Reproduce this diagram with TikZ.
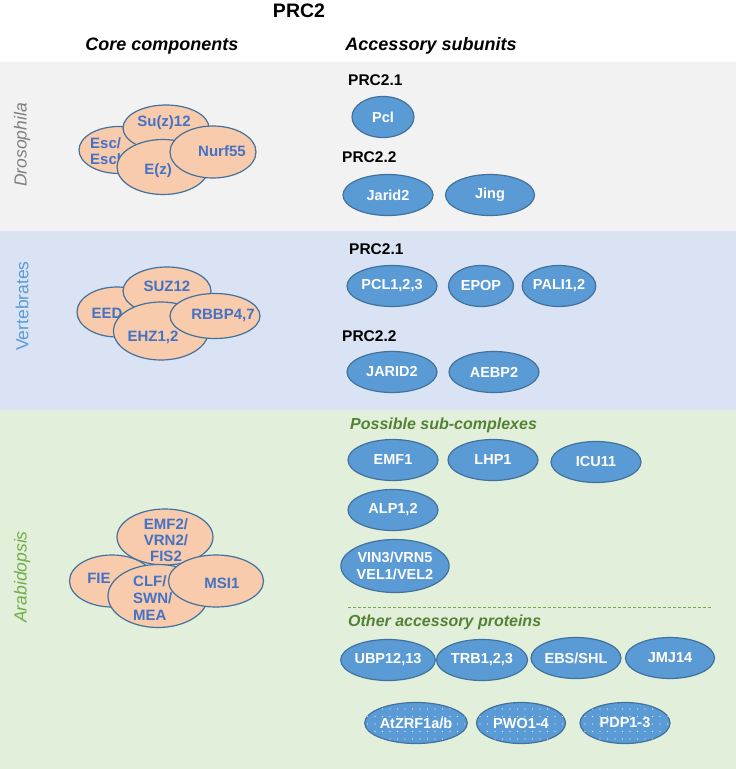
\documentclass[tikz,border=0pt]{standalone}
\usepackage{fontspec}
\setmainfont{Liberation Sans}
\usetikzlibrary{shapes.geometric,patterns.meta}
\definecolor{bandgray}{HTML}{F2F2F2}
\definecolor{bandblue}{HTML}{DAE3F3}
\definecolor{bandgreen}{HTML}{E2EFDA}
\definecolor{edgeblue}{HTML}{41719C}
\definecolor{salmon}{HTML}{F8CBAD}
\definecolor{accblue}{HTML}{5B9BD5}
\definecolor{coretext}{HTML}{4472C4}
\definecolor{drosgray}{HTML}{7F7F7F}
\definecolor{vertblue}{HTML}{5B9BD5}
\definecolor{arabgreen}{HTML}{70AD47}
\definecolor{darkgreen}{HTML}{548235}
\tikzset{
  coreell/.style={ellipse, draw=edgeblue, fill=salmon, line width=1.2pt, inner sep=0pt},
  coretxt/.style={text=coretext, font=\fontsize{15}{16}\selectfont\bfseries, inner sep=0pt},
  accell/.style={ellipse, draw=edgeblue, fill=accblue, line width=1.2pt, inner sep=0pt,
    minimum width=90pt, minimum height=41pt, text=white, font=\fontsize{14.5}{16}\selectfont\bfseries, align=center},
  accdot/.style={accell, postaction={pattern={Dots[distance=7.5pt,radius=0.55pt]}, pattern color=white!85!accblue}},
  grouplbl/.style={anchor=west, inner sep=0pt, font=\fontsize{15.5}{17}\selectfont\bfseries},
  sublbl/.style={anchor=west, inner sep=0pt, text=darkgreen, font=\fontsize{16}{18}\selectfont\bfseries\itshape},
  header/.style={inner sep=0pt, font=\fontsize{18}{20}\selectfont\bfseries\itshape},
  sidelbl/.style={inner sep=0pt, rotate=90, font=\fontsize{17.5}{19}\selectfont}
}
\begin{document}
\begin{tikzpicture}[x=1pt,y=-1pt]
\useasboundingbox (0,0) rectangle (736,769);
% bands
\fill[white] (0,0) rectangle (736,62);
\fill[bandgray] (0,62) rectangle (736,231);
\fill[bandblue] (0,231) rectangle (736,410);
\fill[bandgreen] (0,410) rectangle (736,769);
% headers
\node[inner sep=0pt, font=\fontsize{19.5}{21}\selectfont\bfseries] (title) at (299,11) {PRC2};
\node[header] (hcore) at (162,46) {Core components};
\node[header] (hacc) at (431,46) {Accessory subunits};
% side labels
\node[sidelbl, text=drosgray, font=\fontsize{17.5}{19}\selectfont\itshape] (ldros) at (22,145) {Drosophila};
\node[sidelbl, text=vertblue] (lvert) at (22,306) {Vertebrates};
\node[sidelbl, text=arabgreen, font=\fontsize{17.5}{19}\selectfont\itshape] (larab) at (22,577) {Arabidopsis};

% Drosophila core
\node[coreell, minimum width=80pt, minimum height=47pt] (esc) at (119,150) {};
\node[coretxt, anchor=west, align=left] (tesc) at (90,151) {Esc/\\Escl};
\node[coreell, minimum width=86pt, minimum height=46pt] (suz) at (166,128) {};
\node[coretxt] (tsuz) at (164,123) {Su(z)12};
\node[coreell, minimum width=92pt, minimum height=55pt] (ez) at (163,167) {};
\node[coretxt] (tez) at (158,171) {E(z)};
\node[coreell, minimum width=86pt, minimum height=52pt] (nurf) at (213,152) {};
\node[coretxt] (tnurf) at (222,151) {Nurf55};

% Vertebrates core
\node[coreell, minimum width=80pt, minimum height=50pt] (eed) at (117,312) {};
\node[coretxt] (teed) at (107,313) {EED};
\node[coreell, minimum width=88pt, minimum height=48pt] (suz12) at (167,291) {};
\node[coretxt] (tsuz12) at (167,286) {SUZ12};
\node[coreell, minimum width=95pt, minimum height=58pt] (ehz) at (161,331) {};
\node[coretxt] (tehz) at (153,337) {EHZ1,2};
\node[coreell, minimum width=90pt, minimum height=45pt] (rbbp) at (215,316) {};
\node[coretxt] (trbbp) at (223,315) {RBBP4,7};

% Arabidopsis core
\node[coreell, minimum width=85pt, minimum height=52pt] (fie) at (112,581) {};
\node[coretxt] (tfie) at (99,578) {FIE};
\node[coreell, minimum width=96pt, minimum height=56pt] (emf2) at (165,537) {};
\node[coretxt, align=center] (temf2) at (166,540) {EMF2/\\VRN2/\\FIS2};
\node[coreell, minimum width=100pt, minimum height=63pt] (clf) at (158,596) {};
\node[coretxt, anchor=west, align=left, font=\fontsize{15}{17}\selectfont\bfseries] (tclf) at (133,598) {CLF/\\SWN/\\MEA};
\node[coreell, minimum width=95pt, minimum height=52pt] (msi) at (216,581) {};
\node[coretxt] (tmsi) at (222,583) {MSI1};

% Drosophila accessory
\node[grouplbl] (d21) at (348,80) {PRC2.1};
\node[accell, minimum width=62pt] (pcl) at (383,117) {Pcl};
\node[grouplbl] (d22) at (342,157) {PRC2.2};
\node[accell] (jarid) at (388,195) {Jarid2};
\node[accell, minimum width=89pt] (jing) at (490,195) {Jing};

% Vertebrate accessory
\node[grouplbl] (v21) at (349,249) {PRC2.1};
\node[accell] (pcl123) at (392,286) {PCL1,2,3};
\node[accell, minimum width=65pt] (epop) at (481,286) {EPOP};
\node[accell, minimum width=70pt] (pali) at (559,286) {PALI1,2};
\node[grouplbl] (v22) at (342,336) {PRC2.2};
\node[accell] (jarid2v) at (392,372) {JARID2};
\node[accell] (aebp) at (494,372) {AEBP2};

% Arabidopsis accessory
\node[sublbl] (possible) at (350,425) {Possible sub-complexes};
\node[accell] (emf1) at (393,460) {EMF1};
\node[accell] (lhp1) at (493,460) {LHP1};
\node[accell] (icu) at (596,462) {ICU11};
\node[accell] (alp) at (393,510) {ALP1,2};
\node[accell, minimum width=105pt, minimum height=53pt, font=\fontsize{14.5}{17}\selectfont\bfseries] (vin) at (395,566) {VIN3/VRN5\\VEL1/VEL2};
\coordinate (dl) at (348,607);
\coordinate (dr) at (713,607);
\draw[arabgreen, line width=0.8pt, dash pattern=on 3pt off 2pt] (dl) -- (dr);
\node[sublbl] (other) at (348,622) {Other accessory proteins};
\node[accell, minimum width=89pt] (ubp) at (388,660) {UBP12,13};
\node[accell, minimum width=91pt] (trb) at (482,660) {TRB1,2,3};
\node[accell] (ebs) at (576,658) {EBS/SHL};
\node[accell, minimum width=89pt] (jmj) at (670,658) {JMJ14};
\node[accdot, minimum width=89pt] (atzrf) at (416,723) {AtZRF1a/b};
\node[accdot, minimum width=89pt] (pwo) at (521,723) {PWO1-4};
\node[accdot, minimum width=90pt] (pdp) at (625,723) {PDP1-3};
\end{tikzpicture}
\end{document}
